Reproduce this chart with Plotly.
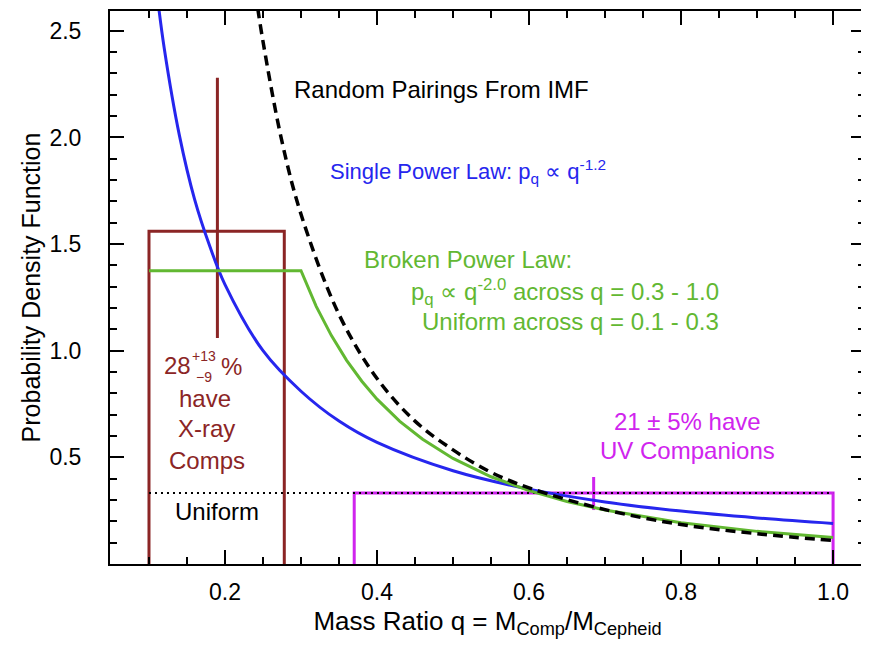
import plotly.graph_objects as go

# ---------------- data ----------------
# Single power law  p_q ∝ q^-1.2
q_single = [0.11, 0.12, 0.14, 0.16, 0.18, 0.20, 0.25, 0.30, 0.35, 0.40, 0.50, 0.60, 0.70, 0.80, 0.90, 1.00]
p_single = [2.69, 2.42, 2.01, 1.71, 1.49, 1.31, 1.00, 0.81, 0.67, 0.57, 0.437, 0.351, 0.291, 0.248, 0.216, 0.19]

# Broken power law (uniform 0.1-0.3, q^-2 across 0.3-1.0)
q_broken = [0.10, 0.30, 0.32, 0.34, 0.36, 0.38, 0.40, 0.43, 0.46, 0.50, 0.55, 0.60, 0.65, 0.70, 0.80, 0.90, 1.00]
p_broken = [1.375, 1.375, 1.208, 1.071, 0.955, 0.857, 0.773, 0.669, 0.585, 0.495, 0.409, 0.344, 0.293, 0.253, 0.193, 0.153, 0.124]

# Random pairings from IMF
q_imf = [0.24, 0.25, 0.275, 0.30, 0.35, 0.40, 0.45, 0.50, 0.55, 0.60, 0.70, 0.80, 0.90, 1.00]
p_imf = [2.68, 2.45, 1.98, 1.64, 1.17, 0.87, 0.67, 0.535, 0.43, 0.357, 0.255, 0.185, 0.142, 0.11]

# Uniform distribution
uniform_q = [0.10, 1.00]
uniform_p = [0.333, 0.333]

# X-ray companions box (28 +13 -9 %)
xray_q = [0.10, 0.278]
xray_p = 1.56
xray_center = 0.19
xray_err_plus = 0.72
xray_err_minus = 0.50

# UV companions box (21 ± 5 %)
uv_q = [0.37, 1.00]
uv_p = 0.333
uv_center = 0.685
uv_err_plus = 0.075
uv_err_minus = 0.08

x_tick_vals = [0.2, 0.4, 0.6, 0.8, 1.0]
x_tick_text = ["0.2", "0.4", "0.6", "0.8", "1.0"]
y_tick_vals = [0.5, 1.0, 1.5, 2.0, 2.5]
y_tick_text = ["0.5", "1.0", "1.5", "2.0", "2.5"]

# ---------------- styles ----------------
FONT = "Liberation Sans, Arial, Helvetica, sans-serif"
BLUE = "#2626EE"
GREEN = "#62B832"
RED = "#8B2525"
MAGENTA = "#D024EE"
ANN = 24

fig = go.Figure()

# X-ray box
fig.add_trace(go.Scatter(
    x=[xray_q[0], xray_q[0], xray_q[1], xray_q[1]], y=[0, xray_p, xray_p, 0],
    mode="lines", line=dict(color=RED, width=3), showlegend=False, hoverinfo="skip"))
fig.add_trace(go.Scatter(
    x=[xray_center, xray_center], y=[xray_p - xray_err_minus, xray_p + xray_err_plus],
    mode="lines", line=dict(color=RED, width=3), showlegend=False, hoverinfo="skip"))

# UV box
fig.add_trace(go.Scatter(
    x=[uv_q[0], uv_q[0], uv_q[1], uv_q[1]], y=[0, uv_p, uv_p, 0],
    mode="lines", line=dict(color=MAGENTA, width=3), showlegend=False, hoverinfo="skip"))
fig.add_trace(go.Scatter(
    x=[uv_center, uv_center], y=[uv_p - uv_err_minus, uv_p + uv_err_plus],
    mode="lines", line=dict(color=MAGENTA, width=3), showlegend=False, hoverinfo="skip"))

# Uniform (dotted)
fig.add_trace(go.Scatter(
    x=uniform_q, y=uniform_p, mode="lines",
    line=dict(color="black", width=2, dash="2px,4px"), showlegend=False, hoverinfo="skip"))

# curves
fig.add_trace(go.Scatter(
    x=q_single, y=p_single, mode="lines", line=dict(color=BLUE, width=3, shape="spline"),
    showlegend=False))
fig.add_trace(go.Scatter(
    x=q_broken, y=p_broken, mode="lines", line=dict(color=GREEN, width=3),
    showlegend=False))
fig.add_trace(go.Scatter(
    x=q_imf, y=p_imf, mode="lines", line=dict(color="black", width=3.5, dash="10px,6px", shape="spline"),
    showlegend=False))

# ---------------- annotations ----------------
def ann(x, y, text, color, size=ANN, xanchor="center"):
    fig.add_annotation(x=x, y=y, text=text, showarrow=False, xref="x", yref="y",
                       xanchor=xanchor, yanchor="middle",
                       font=dict(family=FONT, size=size, color=color))

ann(0.288, 2.224, "Random Pairings From IMF", "black", xanchor="left")
ann(0.336, 1.84, "Single Power Law: p<sub>q</sub> ∝ q<sup>-1.2</sup>", BLUE, size=22, xanchor="left")
ann(0.380, 1.43, "Broken Power Law:", GREEN, xanchor="left")
ann(0.852, 1.275, "p<sub>q</sub> ∝ q<sup>-2.0</sup> across q = 0.3 - 1.0", GREEN, xanchor="right")
ann(0.852, 1.135, "Uniform across q = 0.1 - 0.3", GREEN, xanchor="right")

ann(0.138, 0.93, "28", RED)
ann(0.172, 0.975, "+13", RED, size=14)
ann(0.172, 0.878, "−9", RED, size=14)
ann(0.209, 0.925, "%", RED)
ann(0.174, 0.776, "have", RED)
ann(0.175, 0.636, "X-ray", RED)
ann(0.176, 0.486, "Comps", RED)

ann(0.189, 0.248, "Uniform", "black")

ann(0.808, 0.668, "21 ± 5% have", MAGENTA)
ann(0.809, 0.533, "UV Companions", MAGENTA)

# ---------------- layout ----------------
axis_common = dict(
    ticks="inside", ticklen=14, tickwidth=2, tickcolor="black",
    showline=True, linewidth=2, linecolor="black", mirror="ticks",
    showgrid=False, zeroline=False,
    tickfont=dict(family=FONT, size=23, color="black"),
)

# the page body adds an 8px offset; margins compensate so the plot frame
# lands at x 110..865, y 9..564 in the window
fig.update_layout(
    width=869, height=648,
    margin=dict(l=102, r=12, t=1, b=92),
    plot_bgcolor="white", paper_bgcolor="white",
    font=dict(family=FONT, color="black"),
    xaxis=dict(
        range=[0.0487, 1.042], tickmode="array", tickvals=x_tick_vals, ticktext=x_tick_text,
        minor=dict(tick0=0, dtick=0.05, ticks="inside", ticklen=7, tickwidth=2, tickcolor="black", showgrid=False),
        ticklabelstandoff=6,
        title=dict(text="Mass Ratio q = M<sub>Comp</sub>/M<sub>Cepheid</sub>",
                   font=dict(family=FONT, size=26, color="black"), standoff=8),
        **axis_common),
    yaxis=dict(
        range=[0, 2.593], tickmode="array", tickvals=y_tick_vals, ticktext=y_tick_text,
        minor=dict(tick0=0, dtick=0.1, ticks="inside", ticklen=7, tickwidth=2, tickcolor="black", showgrid=False),
        ticklabelstandoff=22,
        title=dict(text="Probability Density Function",
                   font=dict(family=FONT, size=25, color="black"), standoff=2),
        **axis_common),
)

fig.write_html("out.html")
